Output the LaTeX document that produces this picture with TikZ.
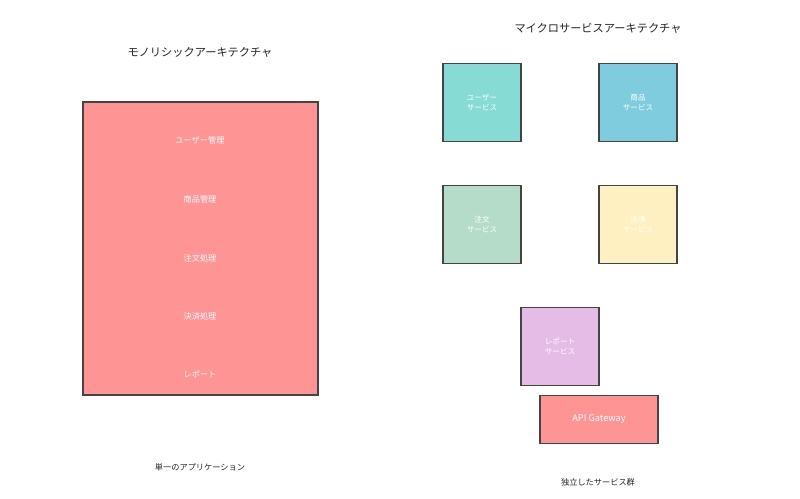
\documentclass[tikz,border=0pt]{standalone}
\usepackage{fontspec}
\setmainfont{Noto Sans CJK JP}

\definecolor{MonoRed}{RGB}{255, 148, 148}
\definecolor{UserTeal}{RGB}{134, 220, 212}
\definecolor{ItemBlue}{RGB}{126, 204, 221}
\definecolor{OrderGreen}{RGB}{181, 220, 201}
\definecolor{PayYellow}{RGB}{255, 240, 193}
\definecolor{ReportPurple}{RGB}{229, 188, 230}
\definecolor{EdgeGray}{RGB}{68, 68, 68}
\definecolor{TextGray}{RGB}{34, 34, 34}

\tikzset{
  title/.style={text=TextGray, font=\fontsize{11.2}{13}\selectfont},
  caption/.style={text=TextGray, font=\fontsize{8.2}{10}\selectfont},
  part/.style={text=white, font=\fontsize{8.2}{10}\selectfont},
  service/.style={draw=EdgeGray, line width=1.3pt, minimum width=78pt, minimum height=78pt,
    inner sep=0pt, text=white, align=center, font=\fontsize{7.6}{10.5}\selectfont},
}

\begin{document}
\begin{tikzpicture}[x=1pt, y=-1pt]
\useasboundingbox (0,0) rectangle (800,498);

% monolith
\node[title] (monotitle) at (200,52.5) {モノリシックアーキテクチャ};
\node[draw=EdgeGray, line width=1.5pt, fill=MonoRed, minimum width=235pt, minimum height=293pt, inner sep=0pt] (mono) at (200.5,248.5) {};
\node[part] (users) at (200,140.5) {ユーザー管理};
\node[part] (items) at (200,199.5) {商品管理};
\node[part] (orders) at (200,258.5) {注文処理};
\node[part] (payments) at (200,316.5) {決済処理};
\node[part] (reports) at (200,374.5) {レポート};
\node[caption] (monocap) at (200,467.5) {単一のアプリケーション};

% microservices
\node[title] (microtitle) at (598,28.5) {マイクロサービスアーキテクチャ};
\node[service, fill=UserTeal] (usersvc) at (482,102.5) {ユーザー\\サービス};
\node[service, fill=ItemBlue] (itemsvc) at (638,102.5) {商品\\サービス};
\node[service, fill=OrderGreen] (ordersvc) at (482,224.5) {注文\\サービス};
\node[service, fill=PayYellow] (paysvc) at (638,224.5) {決済\\サービス};
\node[service, fill=ReportPurple] (reportsvc) at (560,346.5) {レポート\\サービス};
\node[service, fill=MonoRed, minimum width=118pt, minimum height=48pt, font=\fontsize{9.2}{11}\selectfont] (gateway) at (599,419.5) {API Gateway};
\node[caption] (microcap) at (598,482.5) {独立したサービス群};

\end{tikzpicture}
\end{document}
